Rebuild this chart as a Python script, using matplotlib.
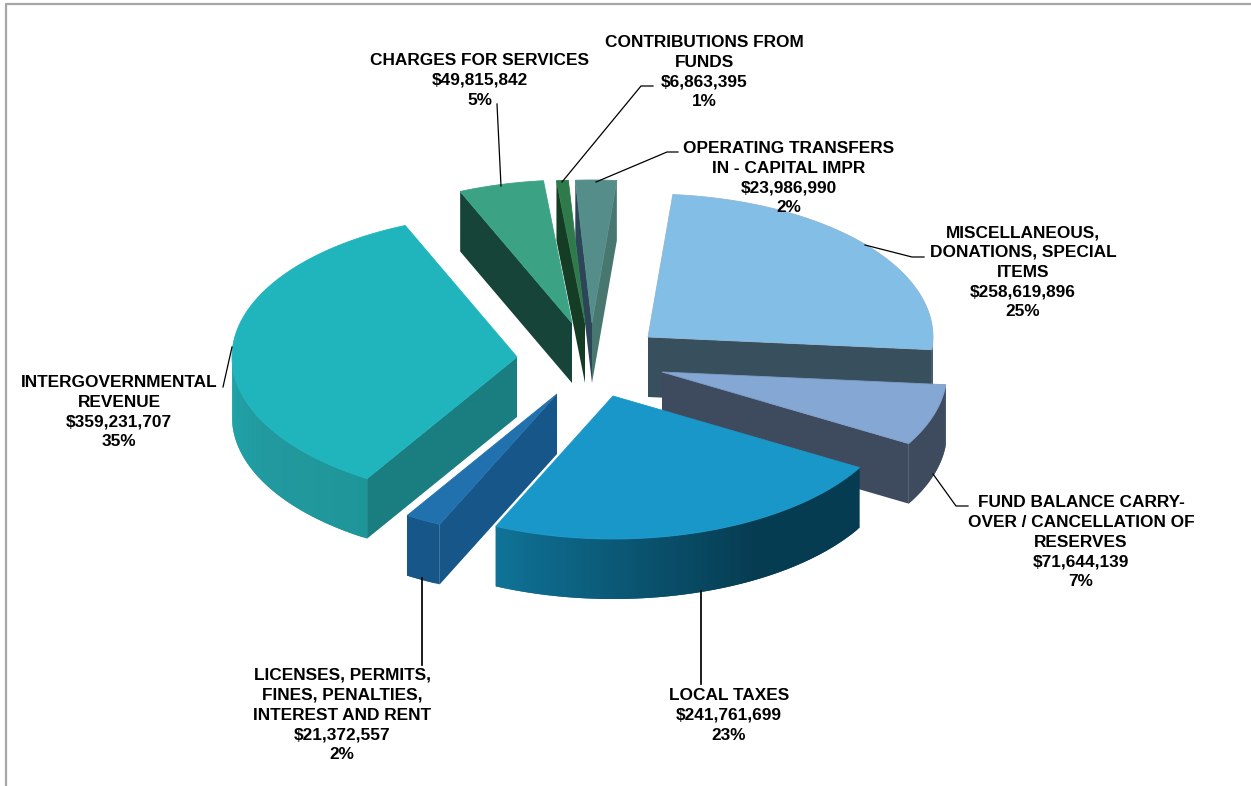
import numpy as np
import matplotlib
matplotlib.use("Agg")
import matplotlib.pyplot as plt
from matplotlib.colors import to_rgb
from matplotlib.patches import Polygon

plt.rcParams['font.family'] = ['Liberation Sans', 'DejaVu Sans']

# data, clockwise from the first slice
categories = [
    "MISCELLANEOUS,\nDONATIONS, SPECIAL\nITEMS",
    "FUND BALANCE CARRY-\nOVER / CANCELLATION OF\nRESERVES",
    "LOCAL TAXES",
    "LICENSES, PERMITS,\nFINES, PENALTIES,\nINTEREST AND RENT",
    "INTERGOVERNMENTAL\nREVENUE",
    "CHARGES FOR SERVICES",
    "CONTRIBUTIONS FROM\nFUNDS",
    "OPERATING TRANSFERS\nIN - CAPITAL IMPR",
]
amounts = [258619896, 71644139, 241761699, 21372557, 359231707, 49815842, 6863395, 23986990]
percents = ["25%", "7%", "23%", "2%", "35%", "5%", "1%", "2%"]

# look of the pie
first_angle = 5.0
rx, ry = 285, 143
depth = 60
cx, cy = 590, 360
explode_x = [58, 72, 23, -33, -73, -18, -5, 2]
explode_y = [-23, 12, 36, 34, -3, -37, -37, -37]
top_colors = ["#82bee5", "#84a7d3", "#1a97c9", "#2071ae", "#20b4bc", "#3ba283", "#2f7a4b", "#558d8b"]
start_wall = [None, None, None, "#165688", "#1a7e80", "#174438", "#153d26", "#2c4558"]
end_wall = ["#38505e", "#3e4b5e", None, None, None, None, None, "#47776f"]
arc_stops = [
    [(90, "#38505e"), (95, "#38505e")],
    [(95, "#3e4b5e"), (120, "#3e4b5e")],
    [(120, "#063c52"), (150, "#063c52"), (175, "#0a5470"), (204, "#0f7397")],
    [(204, "#165688"), (212, "#165688")],
    [(211, "#1e9699"), (240, "#21999e"), (270, "#1fa5aa")],
    [], [], [],
]
edge_colors = ["#8fb6d6", "#7f9cc8", None, None, None, None, None, None]
draw_order = [0, 7, 6, 5, 4, 1, 3, 2]

# label placement
label_x = [1023, 1081, 729, 342, 119, 480, 704, 789]
label_top = [225, 495, 688, 668, 375, 53, 35, 141]
leaders = [
    ([865, 912, 924], [245, 257, 257]),
    ([933, 956, 968], [474, 506, 506]),
    ([701, 701], [591, 684]),
    ([422, 422], [578, 665]),
    ([232, 223], [347, 387]),
    ([497, 501], [104, 186]),
    ([653, 641, 562], [86, 86, 182]),
    ([678, 667, 596], [152, 152, 182]),
]
leader_lw = [0.9, 0.9, 1.25, 1.25, 0.9, 0.9, 0.9, 0.9]


def rim(ax_, ay_, angles):
    t = np.radians(angles)
    return ax_ + rx * np.sin(t), ay_ - ry * np.cos(t)


def wall(ax, x0, y0, x1, y1, color, z):
    pts = [(x0, y0), (x1, y1), (x1, y1 + depth), (x0, y0 + depth)]
    ax.add_patch(Polygon(pts, closed=True, fc=color, ec="none", zorder=z))


fig = plt.figure(figsize=(12.51, 7.86), dpi=100)
ax = fig.add_axes([0, 0, 1, 1])
ax.set_xlim(0, 1251)
ax.set_ylim(786, 0)
ax.axis("off")

# frame of the chart area
ax.plot([6, 6, 1251], [786, 4, 4], color="#a6a6a6", lw=1.6, zorder=1)

sweeps = np.array(amounts) / np.sum(amounts) * 360
starts = first_angle + np.concatenate([[0], np.cumsum(sweeps)[:-1]])

z = 2
for i in draw_order:
    a0, a1 = starts[i], starts[i] + sweeps[i]
    px = cx + explode_x[i]
    py = cy + explode_y[i]
    # radial walls
    if start_wall[i]:
        x, y = rim(px, py, a0)
        wall(ax, px, py, x, y, start_wall[i], z)
    if end_wall[i]:
        x, y = rim(px, py, a1)
        wall(ax, px, py, x, y, end_wall[i], z)
    z += 1
    # outer wall, only the part that faces the viewer
    lo, hi = max(a0, 90), min(a1, 270)
    if hi > lo and arc_stops[i]:
        steps = np.linspace(lo, hi, int(hi - lo) + 2)
        stop_a = [s[0] for s in arc_stops[i]]
        stop_c = np.array([to_rgb(s[1]) for s in arc_stops[i]])
        # each strip runs on under the next one, so no seams show
        for n in range(len(steps) - 1):
            mid = (steps[n] + steps[n + 1]) / 2
            col = [np.interp(mid, stop_a, stop_c[:, k]) for k in range(3)]
            arc = np.linspace(steps[n], steps[min(n + 2, len(steps) - 1)], 6)
            xs, ys = rim(px, py, arc)
            pts = np.column_stack([np.r_[xs, xs[::-1]], np.r_[ys, ys[::-1] + depth]])
            ax.add_patch(Polygon(pts, closed=True, fc=col, ec="none", zorder=z))
            z += 0.001
    z = np.ceil(z) + 1
    # top face
    arc_x, arc_y = rim(px, py, np.linspace(a0, a1, 120))
    pts = np.column_stack([np.r_[px, arc_x], np.r_[py, arc_y]])
    ec = edge_colors[i] or top_colors[i]
    ax.add_patch(Polygon(pts, closed=True, fc=top_colors[i], ec=ec, lw=0.6, zorder=z))
    z += 1

# leader lines and labels
for i in range(len(categories)):
    ax.plot(leaders[i][0], leaders[i][1], color="black", lw=leader_lw[i], zorder=500,
            solid_joinstyle="miter")
    txt = f"{categories[i]}\n${amounts[i]:,}\n{percents[i]}"
    ax.text(label_x[i], label_top[i], txt, ha="center", va="top", fontsize=12.4,
            fontweight="bold", linespacing=1.40, color="black", zorder=600)

fig.savefig("out.png", dpi=100, facecolor="white")
